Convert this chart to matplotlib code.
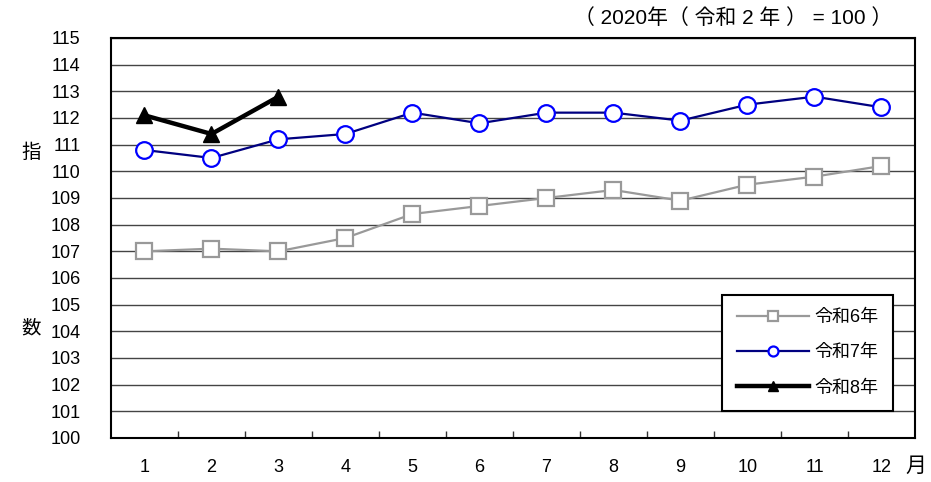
import matplotlib.pyplot as plt
from matplotlib.ticker import FixedLocator

plt.rcParams['font.family'] = ['Liberation Sans', 'Noto Sans CJK JP', 'DejaVu Sans']

months = [1, 2, 3, 4, 5, 6, 7, 8, 9, 10, 11, 12]
r6 = [107.0, 107.1, 107.0, 107.5, 108.4, 108.7, 109.0, 109.3, 108.9, 109.5, 109.8, 110.2]
r7 = [110.8, 110.5, 111.2, 111.4, 112.2, 111.8, 112.2, 112.2, 111.9, 112.5, 112.8, 112.4]
r8 = [112.1, 111.4, 112.8]
labels = ['令和6年', '令和7年', '令和8年']

jp = ['Liberation Sans', 'Noto Sans CJK JP']

fig = plt.figure(figsize=(9.31, 4.82), dpi=100)
ax = fig.add_axes([0.1192, 0.0913, 0.8636, 0.8299])

ax.plot(months, r6, color='#999999', lw=1.6, marker='s', ms=11.5,
        mfc='white', mec='#999999', mew=1.6, label=labels[0], zorder=3)
ax.plot(months, r7, color='#000080', lw=1.6, marker='o', ms=12,
        mfc='white', mec='#0000ff', mew=1.6, label=labels[1], zorder=4)
ax.plot(months[:len(r8)], r8, color='black', lw=3.2, marker='^', ms=11,
        mfc='black', mec='black', label=labels[2], zorder=5)

ax.set_xlim(0.5, 12.5)
ax.set_ylim(100, 115)
ax.set_yticks(range(100, 116))
ax.set_xticks(months)
ax.xaxis.set_minor_locator(FixedLocator([m + 0.5 for m in months[:-1]]))
ax.tick_params(axis='y', length=0, pad=22, labelsize=13)
ax.tick_params(axis='x', which='major', length=0, pad=15, labelsize=13)
ax.tick_params(axis='x', which='minor', direction='in', length=5, width=1, color='#333333')
ax.grid(axis='y', color='#444444', lw=1.0)
ax.set_axisbelow(True)
for s in ax.spines.values():
    s.set_linewidth(1.5)
    s.set_color('black')

leg = ax.legend(loc='lower right', bbox_to_anchor=(0.9726, 0.0675), borderaxespad=0,
                markerscale=0.6, fancybox=False, edgecolor='black', framealpha=1,
                handlelength=4.0, labelspacing=1.0, borderpad=0.8, handletextpad=0.3,
                prop={'family': jp, 'size': 13})
leg.get_frame().set_linewidth(1.5)

fig.text(31 / 931, 1 - 152 / 482, '指', ha='center', va='center', fontsize=14,
         family=['Noto Sans CJK JP'])
fig.text(31 / 931, 1 - 328 / 482, '数', ha='center', va='center', fontsize=14,
         family=['Noto Sans CJK JP'])
fig.text(916 / 931, 1 - 466 / 482, '月', ha='center', va='center', fontsize=15,
         family=['Noto Sans CJK JP'])
fig.text(892 / 931, 1 - 18 / 482, '（ 2020年（ 令和 2 年 ） = 100 ）', ha='right', va='center',
         fontsize=15, family=jp)

fig.savefig('out.png', dpi=100)
